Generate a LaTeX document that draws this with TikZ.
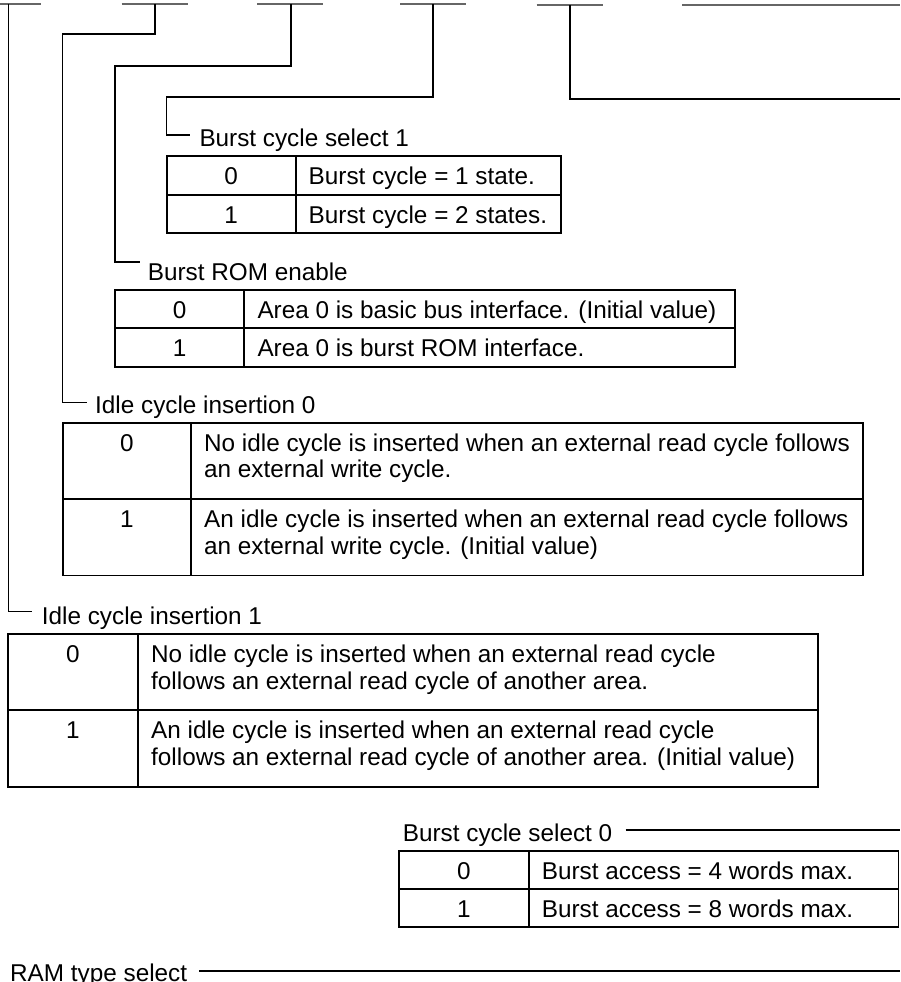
\documentclass[tikz,border=0pt]{standalone}
\usepackage{fontspec}
\setmainfont{Liberation Sans}
\begin{document}
\begin{tikzpicture}[x=1pt,y=-1pt,
  tbl/.style={draw=black,line width=1.8pt},
  lead/.style={draw=black,line width=1.1pt},
  bar/.style={draw=black!60,line width=1.6pt},
  txt/.style={anchor=base west,inner sep=0pt,font=\fontsize{24.3}{27}\selectfont},
  val/.style={anchor=base,inner sep=0pt,font=\fontsize{24.3}{27}\selectfont}]
\useasboundingbox[fill=white] (0,0) rectangle (900,982);

% top bars
\draw[bar] (0,4) -- (41,4);
\draw[bar] (121.7,4) -- (187.7,4);
\draw[bar] (257,4) -- (323,4);
\draw[bar] (400,4) -- (465.6,4);
\draw[bar] (536.7,5.3) -- (602.8,5.3);
\draw[bar] (682,5.3) -- (900,5.3);

\coordinate (b1) at (8.5,4);
\coordinate (b2) at (155,4);
\coordinate (b3) at (291,4);
\coordinate (b4) at (433,4);
\coordinate (b5) at (570,5.3);

% labels
\node[txt] (l1) at (199.3,146) {Burst cycle select 1};
\node[txt] (l2) at (147.7,280) {Burst ROM enable};
\node[txt] (l3) at (95,413.5) {Idle cycle insertion 0};
\node[txt] (l4) at (41.7,624.5) {Idle cycle insertion 1};
\node[txt] (l5) at (402.7,841) {Burst cycle select 0};
\node[txt] (l6) at (10,981) {RAM type select};

% leaders
\draw[lead] (b1) -- (8.5,611.7) -- (32.3,611.7);
\draw[lead] (b2) -- (155,34) -- (62.7,34) -- (62.7,402.7) -- (86.7,402.7);
\draw[lead] (b3) -- (291,66) -- (115,66) -- (115,262) -- (140,262);
\draw[lead] (b4) -- (433,97) -- (166.7,97) -- (166.7,135) -- (190,135);
\draw[lead] (b5) -- (570,99) -- (900,99);
\draw[lead] (625.7,830) -- (900,830);
\draw[lead] (199,971) -- (900,971);

% table 1
\draw[tbl] (166.7,156) rectangle (561,232.7);
\draw[tbl] (166.7,194.7) -- (561,194.7);
\draw[tbl] (295.7,156) -- (295.7,232.7);
\node[val] (t1v0) at (231.2,184.5) {0};
\node[txt] (t1d0) at (308.5,184.5) {Burst cycle = 1 state.};
\node[val] (t1v1) at (231.2,223.2) {1};
\node[txt] (t1d1) at (308.5,223.2) {Burst cycle = 2 states.};

% table 2
\draw[tbl] (115,290) rectangle (735,366.7);
\draw[tbl] (115,328.3) -- (735,328.3);
\draw[tbl] (244.3,290) -- (244.3,366.7);
\node[val] (t2v0) at (179.7,318.5) {0};
\node[txt] (t2d0) at (257.3,318.5) {Area 0 is basic bus interface. (Initial value)};
\node[val] (t2v1) at (179.7,356.8) {1};
\node[txt] (t2d1) at (257.3,356.8) {Area 0 is burst ROM interface.};

% table 3
\draw[tbl] (62.7,422.7) rectangle (863.3,575.5);
\draw[tbl] (62.7,499) -- (863.3,499);
\draw[tbl] (191,422.7) -- (191,575.5);
\node[val] (t3v0) at (126.9,451.2) {0};
\node[txt] (t3d0a) at (204,451.2) {No idle cycle is inserted when an external read cycle follows};
\node[txt] (t3d0b) at (204,477.7) {an external write cycle.};
\node[val] (t3v1) at (126.9,527.5) {1};
\node[txt] (t3d1a) at (204,527.5) {An idle cycle is inserted when an external read cycle follows};
\node[txt] (t3d1b) at (204,554) {an external write cycle. (Initial value)};

% table 4
\draw[tbl] (8.3,634.3) rectangle (817.7,786.7);
\draw[tbl] (8.3,710.3) -- (817.7,710.3);
\draw[tbl] (137.7,634.3) -- (137.7,786.7);
\node[val] (t4v0) at (73,662.8) {0};
\node[txt] (t4d0a) at (151,662.8) {No idle cycle is inserted when an external read cycle};
\node[txt] (t4d0b) at (151,689.3) {follows an external read cycle of another area.};
\node[val] (t4v1) at (73,738.8) {1};
\node[txt] (t4d1a) at (151,738.8) {An idle cycle is inserted when an external read cycle};
\node[txt] (t4d1b) at (151,765.3) {follows an external read cycle of another area. (Initial value)};

% table 5
\draw[tbl] (399.3,851) rectangle (898.5,927.3);
\draw[tbl] (399.3,889.3) -- (898.5,889.3);
\draw[tbl] (529,851) -- (529,927.3);
\node[val] (t5v0) at (464,879.5) {0};
\node[txt] (t5d0) at (541.7,879.5) {Burst access = 4 words max.};
\node[val] (t5v1) at (464,917.8) {1};
\node[txt] (t5d1) at (541.7,917.8) {Burst access = 8 words max.};
\end{tikzpicture}
\end{document}
